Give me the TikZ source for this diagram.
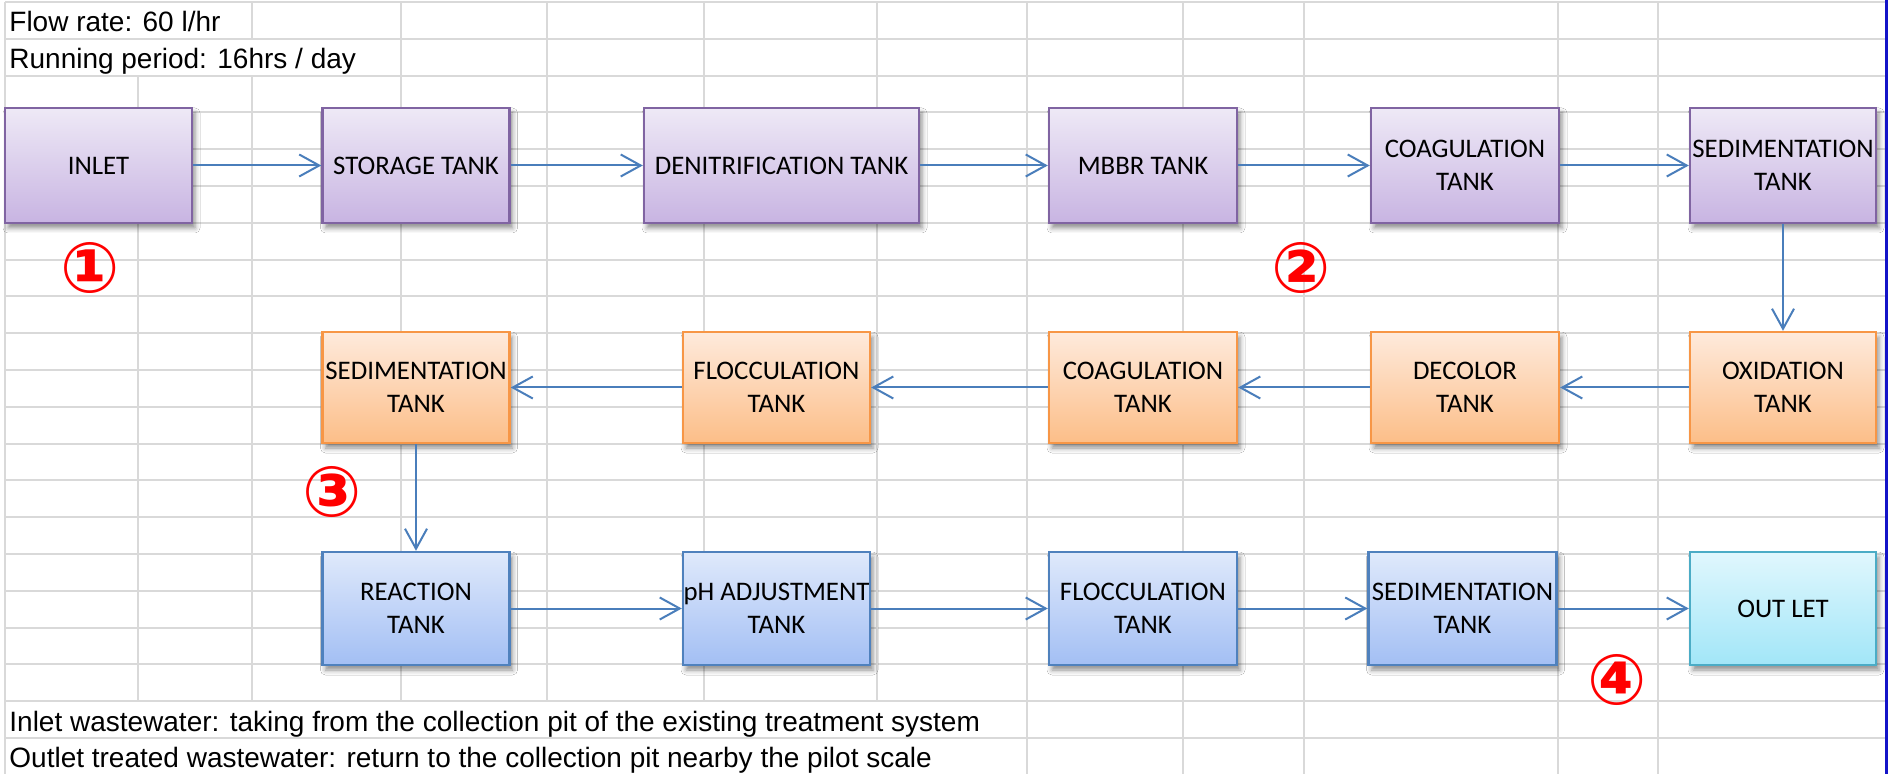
\documentclass[tikz,border=0pt]{standalone}
\usepackage{fontspec}
\setmainfont{Liberation Sans}
\newfontfamily\boxfont{Carlito}
\newfontfamily\markfont{DejaVu Sans}
\usetikzlibrary{arrows.meta,shadows.blur}

\definecolor{gridgray}{HTML}{D9D9D9}
\definecolor{flowblue}{HTML}{4A7EBB}
\definecolor{edgeblue}{HTML}{1414C8}
\definecolor{purpTop}{HTML}{EEE9F6}
\definecolor{purpBot}{HTML}{C8B4E2}
\definecolor{purpLine}{HTML}{8064A2}
\definecolor{orngTop}{HTML}{FEEADC}
\definecolor{orngBot}{HTML}{FCBE88}
\definecolor{orngLine}{HTML}{F79646}
\definecolor{blueTop}{HTML}{DFE9FB}
\definecolor{blueBot}{HTML}{A3BFF4}
\definecolor{blueLine}{HTML}{4F81BD}
\definecolor{cyanTop}{HTML}{E0F7FD}
\definecolor{cyanBot}{HTML}{A2E6F8}
\definecolor{cyanLine}{HTML}{4BACC6}

\tikzset{
  gridline/.style={draw=gridgray, line width=1pt},
  sheettext/.style={anchor=base west, inner sep=0pt, font=\fontsize{14}{14}\selectfont},
  tank/.style={draw, line width=1.2pt, align=center, inner sep=0pt,
    font=\boxfont\fontsize{13.4}{16.3}\selectfont,
    blur shadow={shadow xshift=1.5pt, shadow yshift=-2.5pt, shadow blur radius=2.5pt, shadow opacity=45}},
  toprow/.style={minimum height=57.5pt},
  midrow/.style={minimum height=55.5pt},
  botrow/.style={minimum height=56.5pt},
  purpletank/.style={tank, toprow, draw=purpLine, top color=purpTop, bottom color=purpBot},
  orangetank/.style={tank, midrow, draw=orngLine, top color=orngTop, bottom color=orngBot},
  bluetank/.style={tank, botrow, draw=blueLine, top color=blueTop, bottom color=blueBot},
  cyantank/.style={tank, botrow, draw=cyanLine, top color=cyanTop, bottom color=cyanBot},
  flow/.style={draw=flowblue, line width=1pt,
    -{Straight Barb[length=10pt, width=11pt, line width=1pt]}},
  stage/.style={text=red, inner sep=0pt, font=\markfont\bfseries\fontsize{35}{35}\selectfont},
}

\begin{document}
\begin{tikzpicture}[x=0.5pt, y=-0.5pt]
\useasboundingbox (0,0) rectangle (1889,774);
\fill[white] (0,0) rectangle (1889,774);

% spreadsheet grid: rows
\foreach \k in {0,...,20}
  \draw[gridline] (5,{2+36.8*\k}) -- (1886,{2+36.8*\k});
% spreadsheet grid: columns (hidden where cell text overflows)
\draw[gridline] (5,2) -- (5,774);
\draw[gridline] (137.5,75.6) -- (137.5,701.2);
\draw[gridline] (252,2) -- (252,38.8);
\draw[gridline] (252,75.6) -- (252,701.2);
\foreach \x in {400.5,547,703.5,877}
  \draw[gridline] (\x,2) -- (\x,701.2);
\foreach \x in {1027,1183,1304,1558,1658}
  \draw[gridline] (\x,2) -- (\x,774);
\draw[edgeblue, line width=1.4pt] (1886.5,0) -- (1886.5,774);

% sheet notes
\node[sheettext] (flowrate) at (9,32) {Flow rate: 60 l/hr};
\node[sheettext] (period) at (9,68.5) {Running period: 16hrs / day};
\node[sheettext] (inletnote) at (9,731) {Inlet wastewater: taking from the collection pit of the existing treatment system};
\node[sheettext] (outletnote) at (9,767.5) {Outlet treated wastewater: return to the collection pit nearby the pilot scale};

% first line of tanks
\node[purpletank, minimum width=93.5pt] (inlet) at (98.5,165.5) {INLET};
\node[purpletank, minimum width=93.5pt] (storage) at (416,165.5) {STORAGE TANK};
\node[purpletank, minimum width=137.5pt] (denit) at (781.5,165.5) {DENITRIFICATION TANK};
\node[purpletank, minimum width=94pt] (mbbr) at (1143,165.5) {MBBR TANK};
\node[purpletank, minimum width=94pt] (coagA) at (1465,165.5) {COAGULATION\\TANK};
\node[purpletank, minimum width=93pt] (sedA) at (1783,165.5) {SEDIMENTATION\\TANK};

% second line of tanks
\node[orangetank, minimum width=93pt] (oxid) at (1783,387.5) {OXIDATION\\TANK};
\node[orangetank, minimum width=94pt] (decolor) at (1465,387.5) {DECOLOR\\TANK};
\node[orangetank, minimum width=94pt] (coagB) at (1143,387.5) {COAGULATION\\TANK};
\node[orangetank, minimum width=93.5pt] (floccB) at (776.5,387.5) {FLOCCULATION\\TANK};
\node[orangetank, minimum width=93.5pt] (sedB) at (416,387.5) {SEDIMENTATION\\TANK};

% third line of tanks
\node[bluetank, minimum width=93.5pt] (reaction) at (416,608.5) {REACTION\\TANK};
\node[bluetank, minimum width=93.5pt] (ph) at (776.5,608.5) {pH ADJUSTMENT\\TANK};
\node[bluetank, minimum width=94pt] (floccC) at (1143,608.5) {FLOCCULATION\\TANK};
\node[bluetank, minimum width=94pt] (sedC) at (1462.5,608.5) {SEDIMENTATION\\TANK};
\node[cyantank, minimum width=93pt] (outlet) at (1783,608.5) {OUT LET};

% flow connectors
\draw[flow] (inlet.east) -- (storage.west);
\draw[flow] (storage.east) -- (denit.west);
\draw[flow] (denit.east) -- (mbbr.west);
\draw[flow] (mbbr.east) -- (coagA.west);
\draw[flow] (coagA.east) -- (sedA.west);
\draw[flow] (sedA.south) -- (oxid.north);
\draw[flow] (oxid.west) -- (decolor.east);
\draw[flow] (decolor.west) -- (coagB.east);
\draw[flow] (coagB.west) -- (floccB.east);
\draw[flow] (floccB.west) -- (sedB.east);
\draw[flow] (sedB.south) -- (reaction.north);
\draw[flow] (reaction.east) -- (ph.west);
\draw[flow] (ph.east) -- (floccC.west);
\draw[flow] (floccC.east) -- (sedC.west);
\draw[flow] (sedC.east) -- (outlet.west);

% sampling points
\node[stage] (s1) at (90,267.5) {①};
\node[stage] (s2) at (1301,267.5) {②};
\node[stage] (s3) at (332,492) {③};
\node[stage] (s4) at (1617,680) {④};
\end{tikzpicture}
\end{document}
